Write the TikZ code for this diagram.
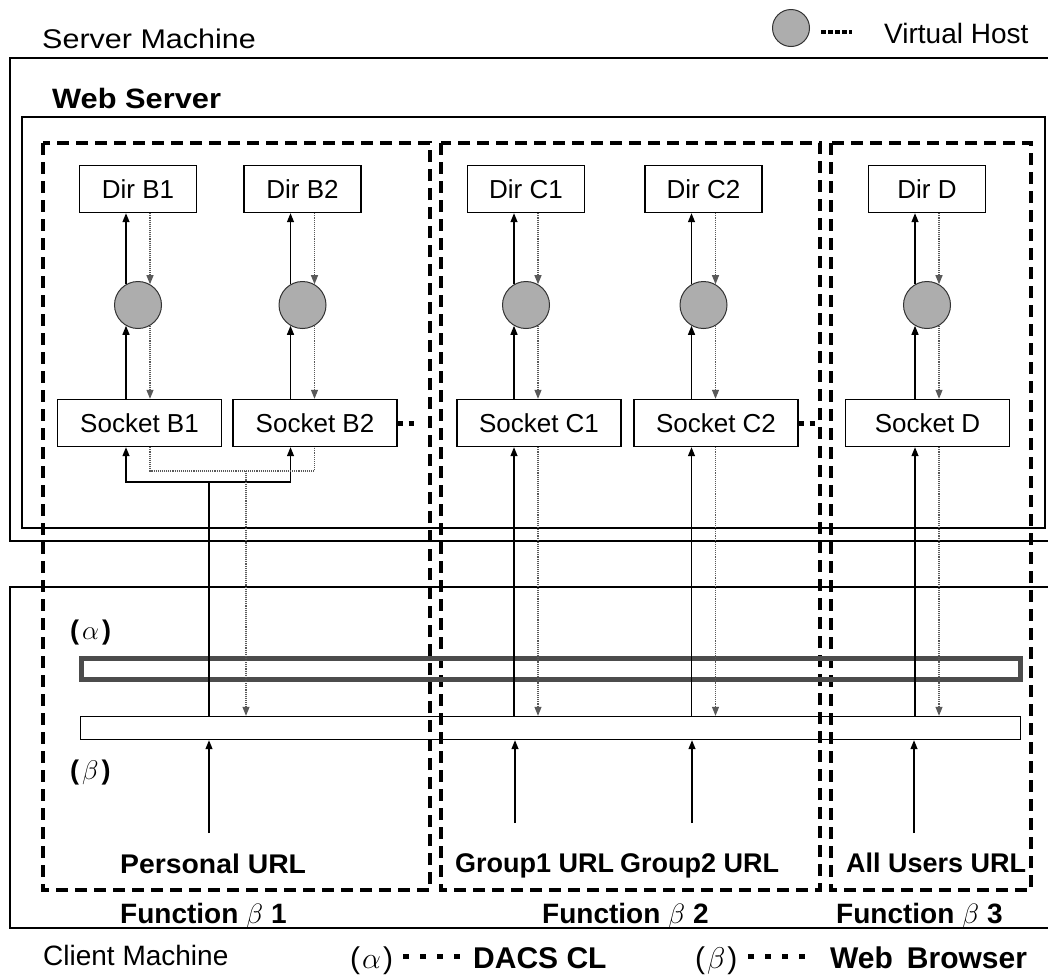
\RequirePackage{fix-cm}
\documentclass[tikz,border=0pt]{standalone}
\usepackage{fontspec}
\setmainfont{Liberation Sans}
\usepackage{graphicx}
\usetikzlibrary{arrows.meta}

\newcommand{\ensanchar}[2]{\scalebox{#1}[1]{#2}}

\begin{document}
\begin{tikzpicture}[x=1pt, y=-1pt,
    marco/.style={line width=1.6pt},
    funcion/.style={line width=3.4pt, dash pattern=on 12pt off 7pt},
    dirbox/.style={draw, line width=1.4pt, minimum width=117pt, minimum height=47pt,
      inner sep=0, font=\fontsize{26}{30}\selectfont},
    sockbox/.style={dirbox, minimum width=164pt},
    vhost/.style={circle, draw=black!80, line width=1pt, fill=black!32,
      minimum size=47pt, inner sep=0},
    alfabar/.style={draw=black!70, line width=4.5pt, minimum width=939pt,
      minimum height=21pt, inner sep=0},
    betabar/.style={draw, line width=1.4pt, minimum width=940pt,
      minimum height=23pt, inner sep=0},
    uparr/.style={line width=1.3pt, -{Triangle[length=9pt, width=7pt]}},
    dnarr/.style={line width=1.1pt, black!65, densely dotted,
      -{Triangle[length=9pt, width=7pt]}},
    dotl/.style={line width=1.1pt, black!65, densely dotted},
    txt/.style={inner sep=0, anchor=base west, font=\fontsize{#1}{#1}\selectfont},
    btxt/.style={inner sep=0, anchor=base west, font=\bfseries\fontsize{#1}{#1}\selectfont}]
    \useasboundingbox (0,0) rectangle (1048,978);

    % Marcos de las maquinas
    \draw[marco] (1048,58) -| (10,541) -- (1048,541);
    \draw[marco] (22,117) rectangle (1045,528);
    \draw[marco] (1048,587) -| (10,928) -- (1048,928);

    % Cajas de las funciones
    \draw[funcion] (43,143) rectangle (430,890);
    \draw[funcion] (441,143) rectangle (820,890);
    \draw[funcion] (831,143) rectangle (1031,890);

    % Directorios, hosts virtuales y sockets
    \foreach \n/\cx/\sx in {B1/138/139.5, B2/302.5/315, C1/526/539, C2/703.5/716, D/927/927.5} {
      \node[dirbox] (dir\n) at (\cx,189) {Dir \n};
      \node[vhost] (vh\n) at (\cx,305) {};
      \node[sockbox] (sock\n) at (\sx,423) {Socket \n};
      \draw[uparr] (sock\n.north -| vh\n.240) -- (vh\n.240);
      \draw[uparr] (vh\n.120) -- (vh\n.120 |- dir\n.south);
      \draw[dnarr] (dir\n.south -| vh\n.60) -- (vh\n.60);
      \draw[dnarr] (vh\n.300) -- (vh\n.300 |- sock\n.north);
    }
    \draw[line width=5pt, dash pattern=on 5pt off 6pt] (sockB2.east) -- ++(16,0);
    \draw[line width=5pt, dash pattern=on 5pt off 6pt] (sockC2.east) -- ++(19,0);

    % Barras (alfa) y (beta)
    \node[alfabar] (barAlfa) at (551,669) {};
    \node[betabar] (barBeta) at (550.5,728) {};

    % Funcion beta 1: ramas hacia los sockets B
    \coordinate (jB) at (209,482);
    \coordinate (kB) at (246,471);
    \draw[line width=1.3pt] (barBeta.north -| jB) -- (jB);
    \draw[uparr] (jB) -| (sockB1.south -| vhB1.240);
    \draw[uparr] (jB) -| (sockB2.south -| vhB2.240);
    \draw[dotl] (sockB1.south -| vhB1.300) |- (kB -| vhB2.300) -- (sockB2.south -| vhB2.300);
    \draw[dnarr] (kB) -- (kB |- barBeta.north);

    % Funciones beta 2 y beta 3
    \foreach \n in {C1,C2,D} {
      \draw[uparr] (barBeta.north -| vh\n.240) -- (sock\n.south -| vh\n.240);
      \draw[dnarr] (sock\n.south -| vh\n.300) -- (barBeta.north -| vh\n.300);
    }

    % URLs del navegador
    \coordinate (uP) at (209,833);
    \coordinate (uG1) at (515,823);
    \coordinate (uG2) at (692,823);
    \coordinate (uA) at (914,833);
    \foreach \u in {uP,uG1,uG2,uA}
      \draw[uparr] (\u) -- (\u |- barBeta.south);

    % Etiquetas
    \node[txt=27] (servidor) at (42,48) {\ensanchar{1.13}{Server Machine}};
    \node[btxt=28] (webserver) at (52,108) {\ensanchar{1.1}{Web Server}};
    \node[btxt=27] (etAlfa) at (70,639) {(\hspace{3pt}$\alpha$\hspace{3pt})};
    \node[btxt=27] (etBeta) at (70,779) {(\hspace{3pt}$\beta$\hspace{3pt})};
    \node[btxt=27] (personal) at (120,873) {\ensanchar{1.05}{Personal URL}};
    \node[btxt=27] (grupo1) at (455,872) {Group1 URL};
    \node[btxt=27] (grupo2) at (620,872) {Group2 URL};
    \node[btxt=27] (todos) at (846,872) {All Users URL};
    \node[btxt=28] (func1) at (120,923) {Function $\beta$\hspace{8pt}1};
    \node[btxt=28] (func2) at (542,923) {Function $\beta$\hspace{8pt}2};
    \node[btxt=28] (func3) at (836,923) {Function $\beta$\hspace{8pt}3};
    \node[txt=28] (cliente) at (43,965) {Client Machine};

    % Leyendas
    \node[vhost, minimum size=37pt] (leyenda) at (791,28) {};
    \draw[line width=4.5pt, dash pattern=on 4.5pt off 2.5pt] ([xshift=11pt, yshift=-4pt]leyenda.east) -- ++(31,0);
    \node[txt=28] (virtual) at (884,43) {Virtual Host};
    \node[txt=30] (legAlfa) at (350,968) {(\hspace{2pt}$\alpha$\hspace{2pt})};
    \draw[line width=5pt, dash pattern=on 6pt off 11pt] (403,956) -- (460,956);
    \node[btxt=30] (dacs) at (473,968) {DACS CL};
    \node[txt=30] (legBeta) at (695,968) {(\hspace{2pt}$\beta$\hspace{2pt})};
    \draw[line width=5pt, dash pattern=on 6pt off 11pt] (748,956) -- (805,956);
    \node[btxt=30] (browser) at (830,968) {Web\hspace{14pt}Browser};
  \end{tikzpicture}
\end{document}
